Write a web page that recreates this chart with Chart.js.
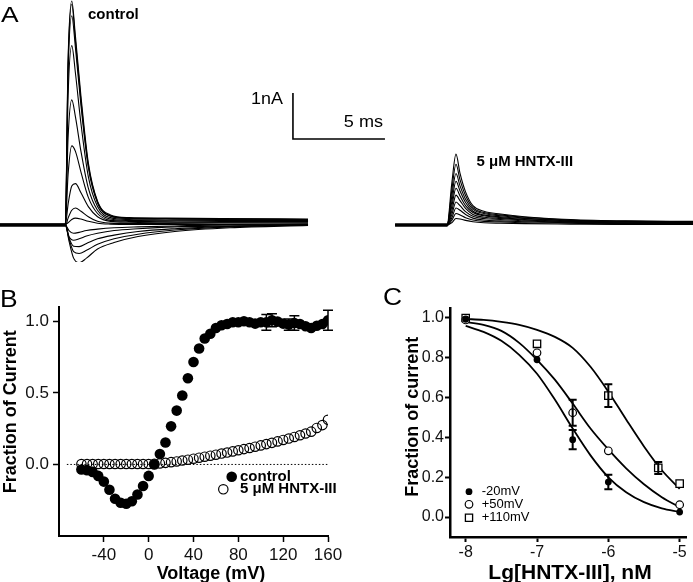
<!DOCTYPE html>
<html>
<head>
<meta charset="utf-8">
<script src="https://cdn.jsdelivr.net/npm/chart.js@4.4.1/dist/chart.umd.min.js"></script>
<style>
  html, body { margin: 0; padding: 0; background: #fff; }
  #wrap { position: relative; width: 693px; height: 582px; overflow: hidden; }
  canvas { position: absolute; }
</style>
</head>
<body>
<div id="wrap">
  <canvas id="traces" width="693" height="262" style="left:0;top:0"></canvas>
  <canvas id="ivCurve" width="385" height="302" style="left:0;top:280px"></canvas>
  <canvas id="doseCurve" width="313" height="302" style="left:380px;top:280px"></canvas>
</div>
<script>
const FONT = '"Liberation Sans", Arial, Helvetica, sans-serif';

// ---- panel A: current traces (time in ms, current in nA) ----
const ctrlTime = [0, 3.55, 3.7, 3.9, 4.1, 4.4, 4.8, 5.3, 6.0, 7.0, 9.0, 12.0, 16.74];
const ctrlOutward = [
  [0.02, 0.02, 3.6, 4.87, 4.1, 2.8, 1.35, 0.52, 0.22, 0.16, 0.15, 0.14, 0.13],
  [-0.02, -0.02, 3.5, 4.8, 4.0, 2.7, 1.3, 0.5, 0.2, 0.15, 0.14, 0.13, 0.12],
  [0.01, 0.01, 3.3, 4.55, 3.85, 2.6, 1.25, 0.48, 0.19, 0.14, 0.13, 0.12, 0.11],
  [0, 0, 2.8, 3.9, 3.3, 2.2, 1.05, 0.4, 0.16, 0.12, 0.11, 0.1, 0.1],
  [-0.01, -0.01, 1.9, 2.72, 2.35, 1.6, 0.8, 0.32, 0.13, 0.1, 0.09, 0.08, 0.08],
  [0.01, 0.01, 1.1, 1.72, 1.6, 1.15, 0.6, 0.25, 0.1, 0.08, 0.07, 0.06, 0.06],
  [0, 0, 0.45, 0.85, 0.9, 0.7, 0.4, 0.18, 0.08, 0.06, 0.05, 0.05, 0.04],
  [-0.02, -0.02, 0.15, 0.32, 0.37, 0.3, 0.18, 0.08, 0.04, 0.03, 0.03, 0.02, 0.02],
  [0.02, 0.02, 0.05, 0.12, 0.15, 0.13, 0.08, 0.04, 0.02, 0.01, 0.01, 0.01, 0],
];
const inwardTime = [0, 3.55, 3.75, 4.0, 4.3, 4.7, 5.3, 6.2, 7.5, 9.5, 12.5, 16.74];
const ctrlInward = [
  [0.01, 0.01, -0.35, -0.72, -0.82, -0.72, -0.52, -0.38, -0.25, -0.14, -0.06, -0.01],
  [-0.01, -0.01, -0.3, -0.58, -0.62, -0.55, -0.42, -0.3, -0.2, -0.11, -0.04, 0],
  [0, 0, -0.28, -0.46, -0.47, -0.4, -0.3, -0.22, -0.14, -0.08, -0.03, 0.01],
  [0.02, 0.02, -0.25, -0.33, -0.3, -0.24, -0.18, -0.12, -0.08, -0.04, -0.02, 0],
  [0, 0, -0.12, -0.18, -0.16, -0.12, -0.09, -0.06, -0.04, -0.02, 0, 0],
];
const drugTime = [21.47, 24.3, 24.55, 24.78, 25.0, 25.3, 25.7, 26.3, 27.2, 28.5, 31, 34, 37.66];
const drugTraces = [
  [0.02, 0.02, 0.9, 1.54, 1.12, 0.72, 0.42, 0.3, 0.24, 0.18, 0.12, 0.09, 0.08],
  [-0.02, -0.02, 0.75, 1.32, 0.98, 0.64, 0.38, 0.27, 0.22, 0.17, 0.11, 0.08, 0.07],
  [0, 0, 0.62, 1.12, 0.85, 0.56, 0.34, 0.25, 0.2, 0.15, 0.1, 0.08, 0.07],
  [0.01, 0.01, 0.5, 0.95, 0.74, 0.49, 0.3, 0.22, 0.18, 0.14, 0.09, 0.07, 0.06],
  [-0.01, -0.01, 0.4, 0.8, 0.63, 0.42, 0.27, 0.2, 0.16, 0.12, 0.08, 0.06, 0.05],
  [0.02, 0.02, 0.3, 0.65, 0.53, 0.36, 0.23, 0.17, 0.14, 0.11, 0.07, 0.05, 0.05],
  [0, 0, 0.22, 0.5, 0.42, 0.29, 0.19, 0.14, 0.12, 0.09, 0.06, 0.04, 0.04],
  [-0.02, -0.02, 0.15, 0.37, 0.32, 0.23, 0.15, 0.11, 0.09, 0.07, 0.05, 0.03, 0.03],
  [0.01, 0.01, 0.1, 0.25, 0.22, 0.16, 0.11, 0.08, 0.07, 0.05, 0.04, 0.02, 0.02],
  [0, 0, 0.05, 0.14, 0.13, 0.1, 0.07, 0.05, 0.04, 0.03, 0.02, 0.01, 0.01],
];
const scaleBarTime = [15.92, 15.92, 20.92];
const scaleBarCurrent = [2.87, 1.87, 1.87];

// ---- panel B: I-V relation ----
const voltages = [-60, -55, -50, -45, -40, -35, -30, -25, -20, -15, -10, -5, 0, 5, 10, 15, 20, 25, 30, 35,
  40, 45, 50, 55, 60, 65, 70, 75, 80, 85, 90, 95, 100, 105, 110, 115, 120, 125, 130, 135, 140, 145, 150, 155, 160];
const controlFrac = [-0.035, -0.04, -0.052, -0.08, -0.12, -0.177, -0.24, -0.268, -0.275, -0.257, -0.21, -0.151, -0.08,
  0.0, 0.073, 0.153, 0.266, 0.376, 0.482, 0.602, 0.716, 0.81, 0.88, 0.913, 0.953, 0.972, 0.981, 0.993, 0.993, 1.0,
  0.993, 0.984, 0.993, 0.993, 1.007, 0.998, 0.984, 0.977, 0.988, 0.981, 0.965, 0.953, 0.969, 0.981, 1.007];
const hntxFrac = [0.003, 0.003, 0.003, 0.003, 0.003, 0.003, 0.003, 0.003, 0.003, 0.003, 0.003, 0.003, 0.003,
  0.004, 0.007, 0.011, 0.016, 0.021, 0.027, 0.033, 0.04, 0.047, 0.054, 0.061, 0.068, 0.076, 0.083, 0.091, 0.099,
  0.107, 0.115, 0.124, 0.133, 0.142, 0.151, 0.161, 0.171, 0.181, 0.192, 0.204, 0.216, 0.229, 0.255, 0.275, 0.312];
const controlErrVoltage = [105, 110, 125, 130, 160];
const controlErr = [0.055, 0.045, 0.04, 0.05, 0.07];
const zeroLineX = [-73, 160];
const ivXTicks = [-40, 0, 40, 80, 120, 160];
const ivYTicks = [0, 0.5, 1.0];

// ---- panel C: concentration-response ----
const logConc = [-8, -7, -6.5, -6, -5];
const frac20 = [0.993, 0.79, 0.389, 0.176, 0.025];
const err20 = [0, 0, 0.048, 0.036, 0];
const frac50 = [0.99, 0.825, 0.524, 0.333, 0.062];
const err50 = [0, 0, 0.065, 0, 0];
const logConc110 = [-8, -7, -6, -5.3, -5];
const frac110 = [1.0, 0.87, 0.61, 0.247, 0.168];
const err110 = [0, 0, 0.057, 0.03, 0];
const fitX = [-8, -7.75, -7.5, -7.25, -7, -6.75, -6.5, -6.25, -6, -5.75, -5.5, -5.25, -5];
const fit20 = [0.96, 0.93, 0.885, 0.815, 0.72, 0.59, 0.445, 0.31, 0.2, 0.125, 0.075, 0.044, 0.026];
const fit50 = [0.98, 0.965, 0.935, 0.875, 0.79, 0.69, 0.57, 0.445, 0.34, 0.245, 0.165, 0.1, 0.05];
const fit110 = [0.995, 0.99, 0.98, 0.965, 0.94, 0.905, 0.85, 0.755, 0.63, 0.49, 0.355, 0.235, 0.142];
const doseXTicks = [-8, -7, -6, -5];
const doseYTicks = [0, 0.2, 0.4, 0.6, 0.8, 1.0];

Chart.defaults.font.family = FONT;
Chart.defaults.color = '#111';

const toPoints = (xs, ys) => xs.map((x, i) => ({ x: x, y: ys[i] }));

// draws free text and legend markers in canvas pixels
function textPlugin(items, markers) {
  return {
    id: 'figText',
    afterDraw(chart) {
      const ctx = chart.ctx;
      items.forEach((t) => {
        ctx.save();
        ctx.translate(t.x, t.y);
        if (t.rotate) ctx.rotate(t.rotate);
        if (t.stretch) ctx.scale(t.stretch, 1);
        ctx.font = t.font;
        ctx.fillStyle = '#000';
        ctx.textAlign = t.align || 'left';
        ctx.textBaseline = t.baseline || 'alphabetic';
        ctx.fillText(t.text, 0, 0);
        ctx.restore();
      });
      (markers || []).forEach((m) => {
        ctx.save();
        ctx.strokeStyle = '#000';
        ctx.fillStyle = m.fill;
        ctx.lineWidth = m.lineWidth || 1.2;
        ctx.beginPath();
        if (m.style === 'rect') ctx.rect(m.x - m.r, m.y - m.r, m.r * 2, m.r * 2);
        else ctx.arc(m.x, m.y, m.r, 0, Math.PI * 2);
        ctx.fill();
        if (m.lineWidth) ctx.stroke();
        ctx.restore();
      });
    },
  };
}

// vertical error bars from dataset.errorBars, through the y scale
const errorBarPlugin = {
  id: 'errorBars',
  afterDatasetsDraw(chart) {
    const ctx = chart.ctx;
    const yScale = chart.scales.y;
    chart.data.datasets.forEach((ds, i) => {
      if (!ds.errorBars) return;
      const meta = chart.getDatasetMeta(i);
      ctx.save();
      ctx.strokeStyle = '#000';
      ctx.lineWidth = ds.errorWidth;
      meta.data.forEach((pt, j) => {
        const e = ds.errorBars[j];
        if (!e) return;
        const v = ds.data[j].y;
        const top = yScale.getPixelForValue(v + e);
        const bot = yScale.getPixelForValue(v - e);
        const c = ds.errorCap;
        ctx.beginPath();
        ctx.moveTo(pt.x, top); ctx.lineTo(pt.x, bot);
        ctx.moveTo(pt.x - c, top); ctx.lineTo(pt.x + c, top);
        ctx.moveTo(pt.x - c, bot); ctx.lineTo(pt.x + c, bot);
        ctx.stroke();
      });
      ctx.restore();
    });
  },
};

// ---------- A ----------
const traceStyle = { borderColor: '#000', borderWidth: 1.1, pointRadius: 0, cubicInterpolationMode: 'monotone', fill: false };
const traceSets = [
  ...ctrlOutward.map((ys) => ({ ...traceStyle, data: toPoints(ctrlTime, ys) })),
  ...ctrlInward.map((ys) => ({ ...traceStyle, data: toPoints(inwardTime, ys) })),
  ...drugTraces.map((ys) => ({ ...traceStyle, data: toPoints(drugTime, ys) })),
  { borderColor: '#000', borderWidth: 1.6, pointRadius: 0, tension: 0, data: toPoints(scaleBarTime, scaleBarCurrent) },
];

new Chart(document.getElementById('traces'), {
  type: 'line',
  data: { datasets: traceSets },
  options: {
    responsive: false,
    animation: false,
    devicePixelRatio: 1,
    layout: { padding: 0 },
    plugins: { legend: { display: false }, tooltip: { enabled: false } },
    scales: {
      x: { type: 'linear', display: false, min: 0, max: 37.66 },
      y: { type: 'linear', display: false, min: -0.804, max: 4.891 },
    },
  },
  plugins: [textPlugin([
    { text: 'A', x: 1, y: 22, font: '22px ' + FONT, stretch: 1.2 },
    { text: 'control', x: 88, y: 18.5, font: 'bold 14px ' + FONT, stretch: 1.07 },
    { text: '5 \u03bcM HNTX-III', x: 476.5, y: 166, font: 'bold 14px ' + FONT, stretch: 1.07 },
    { text: '1nA', x: 283, y: 104, font: '16px ' + FONT, align: 'right', stretch: 1.12 },
    { text: '5 ms', x: 383, y: 126.5, font: '16px ' + FONT, align: 'right', stretch: 1.13 },
  ])],
});

// ---------- B ----------
const controlErrBars = voltages.map((v) => {
  const k = controlErrVoltage.indexOf(v);
  return k >= 0 ? controlErr[k] : 0;
});

new Chart(document.getElementById('ivCurve'), {
  type: 'scatter',
  data: {
    datasets: [
      {
        label: 'control',
        data: toPoints(voltages, controlFrac),
        pointRadius: 5.3,
        backgroundColor: '#000',
        borderColor: '#000',
        borderWidth: 0,
        errorBars: controlErrBars,
        errorWidth: 1.5,
        errorCap: 5,
      },
      {
        label: '5 \u03bcM HNTX-III',
        data: toPoints(voltages, hntxFrac),
        pointRadius: 4.7,
        backgroundColor: 'rgba(0,0,0,0)',
        borderColor: '#000',
        borderWidth: 1.2,
      },
      {
        data: toPoints(zeroLineX, [0, 0]),
        showLine: true,
        pointRadius: 0,
        borderColor: '#000',
        borderWidth: 1,
        borderDash: [1.5, 2],
      },
    ],
  },
  options: {
    responsive: false,
    animation: false,
    devicePixelRatio: 1,
    layout: { padding: { top: 27, right: 57, left: 0, bottom: 0 } },
    plugins: { legend: { display: false }, tooltip: { enabled: false } },
    scales: {
      x: {
        type: 'linear', min: -80, max: 160,
        afterBuildTicks: (s) => { s.ticks = ivXTicks.map((v) => ({ value: v })); },
        afterFit: (s) => { s.height = 46; },
        border: { color: '#000', width: 2 },
        grid: { drawOnChartArea: false, tickLength: 6, tickWidth: 1.5, tickColor: '#000' },
        ticks: { font: { size: 17 }, padding: 3, maxRotation: 0, autoSkip: false },
      },
      y: {
        type: 'linear', min: -0.5, max: 1.1,
        afterBuildTicks: (s) => { s.ticks = ivYTicks.map((v) => ({ value: v })); },
        afterFit: (s) => { s.width = 59; },
        border: { color: '#000', width: 2 },
        grid: { drawOnChartArea: false, tickLength: 6, tickWidth: 1.5, tickColor: '#000' },
        ticks: { font: { size: 17 }, padding: 4, callback: (v) => v.toFixed(1) },
      },
    },
  },
  plugins: [errorBarPlugin, textPlugin([
    { text: 'B', x: 0, y: 26.7, font: '24px ' + FONT, stretch: 1.1 },
    { text: 'Fraction of Current', x: 15.5, y: 131.7, rotate: -Math.PI / 2, align: 'center', font: 'bold 18px ' + FONT },
    { text: 'Voltage (mV)', x: 211, y: 299, align: 'center', font: 'bold 18px ' + FONT },
    { text: 'control', x: 240, y: 196.7, baseline: 'middle', font: 'bold 15px ' + FONT },
    { text: '5 \u03bcM HNTX-III', x: 240, y: 209.3, baseline: 'middle', font: 'bold 15px ' + FONT },
  ], [
    { x: 231.7, y: 196.7, r: 5.3, fill: '#000' },
    { x: 223.3, y: 209.3, r: 4.7, fill: 'rgba(0,0,0,0)', lineWidth: 1.2 },
  ])],
});

// ---------- C ----------
const curveStyle = { showLine: true, pointRadius: 0, borderColor: '#000', borderWidth: 1.8, cubicInterpolationMode: 'monotone' };

new Chart(document.getElementById('doseCurve'), {
  type: 'scatter',
  data: {
    datasets: [
      {
        label: '-20mV', data: toPoints(logConc, frac20), pointRadius: 3.4,
        backgroundColor: '#000', borderColor: '#000', borderWidth: 0,
        errorBars: err20, errorWidth: 2, errorCap: 4,
      },
      {
        label: '+50mV', data: toPoints(logConc, frac50), pointRadius: 3.8,
        backgroundColor: '#fff', borderColor: '#000', borderWidth: 1.2,
        errorBars: err50, errorWidth: 2, errorCap: 4,
      },
      {
        label: '+110mV', data: toPoints(logConc110, frac110), pointStyle: 'rect', pointRadius: 5.2,
        backgroundColor: '#fff', borderColor: '#000', borderWidth: 1.3,
        errorBars: err110, errorWidth: 2, errorCap: 4,
      },
      { ...curveStyle, data: toPoints(fitX, fit20) },
      { ...curveStyle, data: toPoints(fitX, fit50) },
      { ...curveStyle, data: toPoints(fitX, fit110) },
    ],
  },
  options: {
    responsive: false,
    animation: false,
    devicePixelRatio: 1,
    layout: { padding: { top: 28, right: 0, left: 0, bottom: 0 } },
    plugins: { legend: { display: false }, tooltip: { enabled: false } },
    scales: {
      x: {
        type: 'linear', min: -8.22, max: -4.904,
        afterBuildTicks: (s) => { s.ticks = doseXTicks.map((v) => ({ value: v })); },
        afterFit: (s) => { s.height = 45; },
        border: { color: '#000', width: 2.5 },
        grid: { drawOnChartArea: false, tickLength: 5, tickWidth: 2, tickColor: '#000' },
        ticks: { font: { size: 16 }, padding: 1, maxRotation: 0, autoSkip: false },
      },
      y: {
        type: 'linear', min: -0.1, max: 1.05,
        afterBuildTicks: (s) => { s.ticks = doseYTicks.map((v) => ({ value: v })); },
        afterFit: (s) => { s.width = 70; },
        border: { color: '#000', width: 2.5 },
        grid: { drawOnChartArea: false, tickLength: 5, tickWidth: 2, tickColor: '#000' },
        ticks: { font: { size: 16 }, padding: 1, callback: (v) => v.toFixed(1) },
      },
    },
  },
  plugins: [errorBarPlugin, textPlugin([
    { text: 'C', x: 3, y: 25, font: '24px ' + FONT, stretch: 1.1 },
    { text: 'Fraction of current', x: 38, y: 136.7, rotate: -Math.PI / 2, align: 'center', font: 'bold 18px ' + FONT },
    { text: 'Lg[HNTX-III], nM', x: 190, y: 299, align: 'center', font: 'bold 21px ' + FONT },
    { text: '-20mV', x: 101.7, y: 211.7, baseline: 'middle', font: '13px ' + FONT },
    { text: '+50mV', x: 101.7, y: 224.3, baseline: 'middle', font: '13px ' + FONT },
    { text: '+110mV', x: 101.7, y: 237.7, baseline: 'middle', font: '13px ' + FONT },
  ], [
    { x: 89, y: 211.7, r: 3.4, fill: '#000' },
    { x: 89, y: 224.3, r: 3.8, fill: '#fff', lineWidth: 1.2 },
    { x: 89, y: 237.7, r: 3.6, fill: '#fff', lineWidth: 1.3, style: 'rect' },
  ])],
});
</script>
</body>
</html>
